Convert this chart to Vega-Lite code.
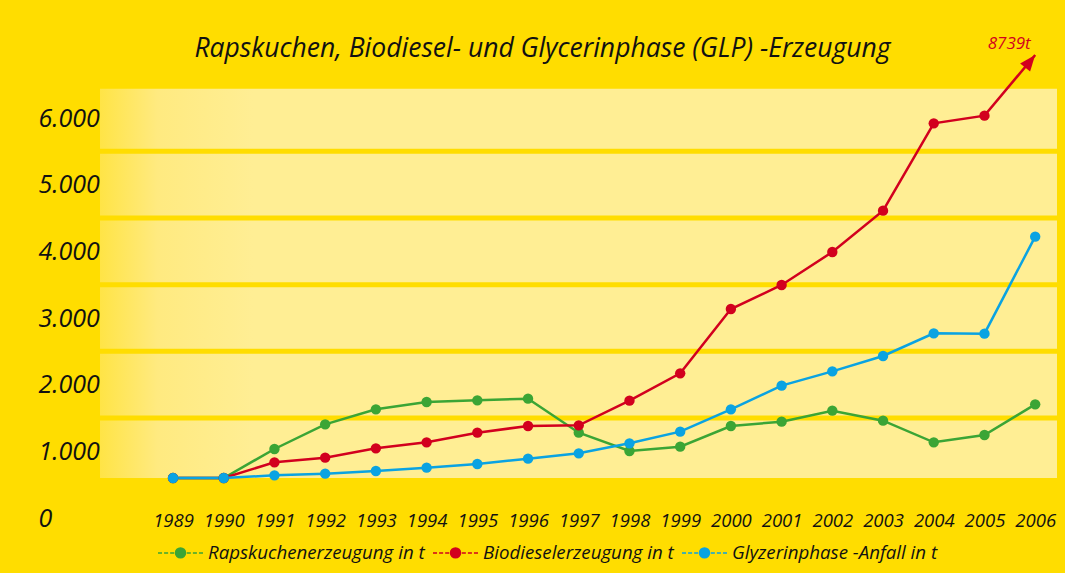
{
  "$schema": "https://vega.github.io/schema/vega-lite/v6.json",
  "width": 957,
  "height": 465,
  "autosize": {"type": "none"},
  "padding": {"left": 100, "top": 53, "right": 8, "bottom": 55},
  "background": "#FFDD00",
  "title": {
    "text": "Rapskuchen, Biodiesel- und Glycerinphase (GLP) -Erzeugung",
    "font": "Open Sans",
    "fontSize": 26.5,
    "fontStyle": "italic",
    "fontWeight": "normal",
    "color": "#111111",
    "anchor": "middle",
    "dx": -36,
    "baseline": "alphabetic",
    "offset": -48
  },
  "datasets": {
    "band": [{"lo": 600, "hi": 6440}],
    "grid": [{"v": 1500}, {"v": 2500}, {"v": 3500}, {"v": 4500}, {"v": 5500}],
    "series": [
      {"year": 1989, "series": "Rapskuchenerzeugung in t", "value": 600},
      {"year": 1990, "series": "Rapskuchenerzeugung in t", "value": 600},
      {"year": 1991, "series": "Rapskuchenerzeugung in t", "value": 1035},
      {"year": 1992, "series": "Rapskuchenerzeugung in t", "value": 1405},
      {"year": 1993, "series": "Rapskuchenerzeugung in t", "value": 1630},
      {"year": 1994, "series": "Rapskuchenerzeugung in t", "value": 1740},
      {"year": 1995, "series": "Rapskuchenerzeugung in t", "value": 1765},
      {"year": 1996, "series": "Rapskuchenerzeugung in t", "value": 1790},
      {"year": 1997, "series": "Rapskuchenerzeugung in t", "value": 1280},
      {"year": 1998, "series": "Rapskuchenerzeugung in t", "value": 1005},
      {"year": 1999, "series": "Rapskuchenerzeugung in t", "value": 1070},
      {"year": 2000, "series": "Rapskuchenerzeugung in t", "value": 1380},
      {"year": 2001, "series": "Rapskuchenerzeugung in t", "value": 1445},
      {"year": 2002, "series": "Rapskuchenerzeugung in t", "value": 1610},
      {"year": 2003, "series": "Rapskuchenerzeugung in t", "value": 1460},
      {"year": 2004, "series": "Rapskuchenerzeugung in t", "value": 1135},
      {"year": 2005, "series": "Rapskuchenerzeugung in t", "value": 1245},
      {"year": 2006, "series": "Rapskuchenerzeugung in t", "value": 1705},
      {"year": 1989, "series": "Biodieselerzeugung in t", "value": 600},
      {"year": 1990, "series": "Biodieselerzeugung in t", "value": 600},
      {"year": 1991, "series": "Biodieselerzeugung in t", "value": 835},
      {"year": 1992, "series": "Biodieselerzeugung in t", "value": 905},
      {"year": 1993, "series": "Biodieselerzeugung in t", "value": 1045},
      {"year": 1994, "series": "Biodieselerzeugung in t", "value": 1135},
      {"year": 1995, "series": "Biodieselerzeugung in t", "value": 1280},
      {"year": 1996, "series": "Biodieselerzeugung in t", "value": 1380},
      {"year": 1997, "series": "Biodieselerzeugung in t", "value": 1390},
      {"year": 1998, "series": "Biodieselerzeugung in t", "value": 1760},
      {"year": 1999, "series": "Biodieselerzeugung in t", "value": 2170},
      {"year": 2000, "series": "Biodieselerzeugung in t", "value": 3135},
      {"year": 2001, "series": "Biodieselerzeugung in t", "value": 3495},
      {"year": 2002, "series": "Biodieselerzeugung in t", "value": 3990},
      {"year": 2003, "series": "Biodieselerzeugung in t", "value": 4610},
      {"year": 2004, "series": "Biodieselerzeugung in t", "value": 5920},
      {"year": 2005, "series": "Biodieselerzeugung in t", "value": 6035},
      {"year": 2006, "series": "Biodieselerzeugung in t", "value": 6945, "tip": true, "label": "8739t"},
      {"year": 1989, "series": "Glyzerinphase -Anfall in t", "value": 600},
      {"year": 1990, "series": "Glyzerinphase -Anfall in t", "value": 600},
      {"year": 1991, "series": "Glyzerinphase -Anfall in t", "value": 640},
      {"year": 1992, "series": "Glyzerinphase -Anfall in t", "value": 665},
      {"year": 1993, "series": "Glyzerinphase -Anfall in t", "value": 705},
      {"year": 1994, "series": "Glyzerinphase -Anfall in t", "value": 755},
      {"year": 1995, "series": "Glyzerinphase -Anfall in t", "value": 810},
      {"year": 1996, "series": "Glyzerinphase -Anfall in t", "value": 890},
      {"year": 1997, "series": "Glyzerinphase -Anfall in t", "value": 970},
      {"year": 1998, "series": "Glyzerinphase -Anfall in t", "value": 1120},
      {"year": 1999, "series": "Glyzerinphase -Anfall in t", "value": 1295},
      {"year": 2000, "series": "Glyzerinphase -Anfall in t", "value": 1630},
      {"year": 2001, "series": "Glyzerinphase -Anfall in t", "value": 1985},
      {"year": 2002, "series": "Glyzerinphase -Anfall in t", "value": 2200},
      {"year": 2003, "series": "Glyzerinphase -Anfall in t", "value": 2430},
      {"year": 2004, "series": "Glyzerinphase -Anfall in t", "value": 2770},
      {"year": 2005, "series": "Glyzerinphase -Anfall in t", "value": 2765},
      {"year": 2006, "series": "Glyzerinphase -Anfall in t", "value": 4220}
    ]
  },
  "layer": [
    {
      "data": {"name": "band"},
      "mark": {
        "type": "rect",
        "color": {
          "gradient": "linear",
          "x1": 0, "y1": 0, "x2": 1, "y2": 0,
          "stops": [
            {"offset": 0, "color": "#FFE446"},
            {"offset": 0.06, "color": "#FFEA80"},
            {"offset": 0.16, "color": "#FFEE94"},
            {"offset": 1, "color": "#FFEE94"}
          ]
        }
      },
      "encoding": {
        "y": {
          "field": "lo",
          "type": "quantitative",
          "title": null,
          "scale": {"domain": [0, 6975], "nice": false, "zero": true},
          "axis": {
            "values": [0, 1000, 2000, 3000, 4000, 5000, 6000],
            "labelExpr": "datum.value == 0 ? '0' : replace(format(datum.value, ','), ',', '.')",
            "labelAlign": "left",
            "labelBaseline": "middle",
            "labelPadding": 62,
            "ticks": false,
            "tickSize": 0,
            "domain": false,
            "grid": false,
            "labelFlush": false,
            "labelOverlap": false,
            "labelFont": "Open Sans",
            "labelFontSize": 25,
            "labelFontStyle": "italic",
            "labelColor": "#111111",
            "title": null
          }
        },
        "y2": {"field": "hi"}
      }
    },
    {
      "data": {"name": "grid"},
      "mark": {"type": "rule", "color": "#FFDD00", "strokeWidth": 5},
      "encoding": {
        "y": {"field": "v", "type": "quantitative", "title": null}
      }
    },
    {
      "data": {"name": "series"},
      "mark": {"type": "line", "strokeWidth": 2.5},
      "encoding": {
        "x": {
          "field": "year",
          "type": "quantitative",
          "title": null,
          "scale": {"domain": [1987.56, 2006.43], "nice": false, "zero": false},
          "axis": {
            "values": [1989, 1990, 1991, 1992, 1993, 1994, 1995, 1996, 1997, 1998, 1999, 2000, 2001, 2002, 2003, 2004, 2005, 2006],
            "format": "d",
            "labelPadding": -7,
            "ticks": false,
            "tickSize": 0,
            "domain": false,
            "grid": false,
            "labelFlush": false,
            "labelOverlap": false,
            "labelAngle": 0,
            "labelFont": "Open Sans",
            "labelFontSize": 18.5,
            "labelFontStyle": "italic",
            "labelColor": "#111111",
            "title": null
          }
        },
        "y": {"field": "value", "type": "quantitative", "title": null},
        "color": {
          "field": "series",
          "type": "nominal",
          "scale": {
            "domain": ["Rapskuchenerzeugung in t", "Biodieselerzeugung in t", "Glyzerinphase -Anfall in t"],
            "range": ["#3BA535", "#D2001E", "#0AA3E2"]
          },
          "legend": {
            "title": null,
            "orient": "none",
            "legendX": 57,
            "legendY": 476,
            "direction": "horizontal",
            "symbolType": "M-1,0H-0.82M-0.73,0H-0.55M-0.46,0H-0.28M0.28,0H0.46M0.55,0H0.73M0.82,0H1M-0.22,0A0.22,0.22,0,1,0,0.22,0A0.22,0.22,0,1,0,-0.22,0Z",
            "symbolSize": 2025,
            "symbolStrokeWidth": 1.5,
            "labelFont": "Open Sans",
            "labelFontSize": 18.7,
            "labelFontStyle": "italic",
            "labelColor": "#111111",
            "labelLimit": 0,
            "labelOffset": 4,
            "columnPadding": 5,
            "encode": {
              "symbols": {
                "update": {
                  "fill": {"scale": "color", "field": "value"},
                  "stroke": {"scale": "color", "field": "value"},
                  "strokeWidth": {"value": 1.5},
                  "opacity": {"value": 1}
                }
              }
            }
          }
        }
      }
    },
    {
      "data": {"name": "series"},
      "transform": [{"filter": "!datum.tip"}],
      "mark": {"type": "point", "filled": true, "size": 108, "opacity": 1},
      "encoding": {
        "x": {"field": "year", "type": "quantitative", "title": null},
        "y": {"field": "value", "type": "quantitative", "title": null},
        "color": {"field": "series", "type": "nominal"}
      }
    },
    {
      "data": {"name": "series"},
      "transform": [{"filter": "datum.tip"}],
      "mark": {
        "type": "point",
        "shape": "M0,0L-0.8,2L0.8,2Z",
        "filled": true,
        "size": 256,
        "angle": 39,
        "color": "#D2001E",
        "opacity": 1
      },
      "encoding": {
        "x": {"field": "year", "type": "quantitative", "title": null},
        "y": {"field": "value", "type": "quantitative", "title": null}
      }
    },
    {
      "data": {"name": "series"},
      "transform": [{"filter": "datum.tip"}],
      "mark": {
        "type": "text",
        "font": "Open Sans",
        "fontSize": 17,
        "fontStyle": "italic",
        "color": "#D2001E",
        "align": "center",
        "baseline": "alphabetic",
        "dx": -26,
        "dy": -6
      },
      "encoding": {
        "x": {"field": "year", "type": "quantitative", "title": null},
        "y": {"field": "value", "type": "quantitative", "title": null},
        "text": {"field": "label"}
      }
    }
  ],
  "config": {
    "view": {"stroke": null}
  }
}
